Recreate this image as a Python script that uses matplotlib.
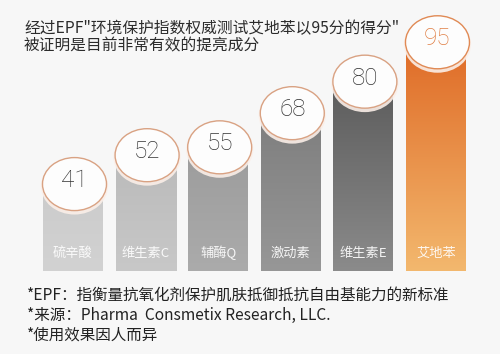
import matplotlib
matplotlib.use("Agg")
import matplotlib.pyplot as plt
import numpy as np
from matplotlib.patches import Ellipse
from matplotlib.colors import LinearSegmentedColormap

categories = ["硫辛酸", "维生素C", "辅酶Q", "激动素", "维生素E", "艾地苯"]
scores = [41, 52, 55, 68, 80, 95]
top_colors = ["#cbcbcb", "#bababa", "#9c9c9c", "#7e7e7e", "#5c5c5c", "#df6a26"]
bottom_colors = ["#d2d2d2", "#c8c8c8", "#ababab", "#979797", "#8b8b8b", "#f3b86e"]
title_lines = ['经过EPF"环境保护指数权威测试艾地苯以95分的得分"', '被证明是目前非常有效的提亮成分']
notes = ["*EPF：指衡量抗氧化剂保护肌肤抵御抵抗自由基能力的新标准",
         "*来源：Pharma  Consmetix Research, LLC.",
         "*使用效果因人而异"]

plt.rcParams['font.family'] = ['Noto Sans CJK SC', 'DejaVu Sans']

W, H = 500, 354
fig = plt.figure(figsize=(5, 3.54), dpi=100)
fig.patch.set_facecolor("#f7f7f7")

ax = fig.add_axes([0, 83 / H, 1, 271 / H])
ax.set_facecolor("none")
ax.axis("off")
xlo, xhi = -1.0055, 5.882
ylo, yhi = 7.9, 111.1
px_per_x = W / (xhi - xlo)
px_per_y = 271 / (yhi - ylo)

x = np.arange(len(categories))
bw = 60 / px_per_x
heights = [v - ylo for v in scores]
bars = ax.bar(x, heights, width=bw, bottom=ylo, color="none", zorder=2)

grad = np.linspace(0, 1, 256).reshape(-1, 1)
for i, (b, v) in enumerate(zip(bars, scores)):
    cmap = LinearSegmentedColormap.from_list("g%d" % i, [bottom_colors[i], top_colors[i]])
    x0 = b.get_x()
    im = ax.imshow(grad, extent=(x0, x0 + bw, ylo, v), origin="lower",
                   cmap=cmap, aspect="auto", zorder=2, interpolation="bilinear")
    im.set_clip_path(b)

ew = 64 / px_per_x
eh = 53 / px_per_y
for i, v in enumerate(scores):
    cx = x[i] + 1.5 / px_per_x
    glow = Ellipse((cx, v - 0.8), ew * 1.05, eh * 1.07, facecolor="#fbefe8",
                   edgecolor="none", alpha=0.9, zorder=3)
    ax.add_patch(glow)
    edge = "#e08a55" if i == len(scores) - 1 else "#d9a283"
    e = Ellipse((cx, v), ew, eh, facecolor="#fdfdfd", edgecolor=edge, lw=1.0, zorder=4)
    ax.add_patch(e)
    tc = "#e07f45" if i == len(scores) - 1 else "#333333"
    ax.text(cx, v + 1.3, str(v), ha="center", va="center", fontsize=17.5,
            family=["Roboto", "DejaVu Sans"], fontweight="light", color=tc, zorder=5)
    ax.text(x[i], 14.7, categories[i], ha="center", va="center", fontsize=9.5,
            color="white", alpha=0.9, zorder=5)

ax.set_xlim(xlo, xhi)
ax.set_ylim(ylo, yhi)

fig.text(24 / W, 1 - 29 / H, title_lines[0], fontsize=11.3, color="#2b2b2b", va="center", ha="left")
fig.text(24 / W, 1 - 46 / H, title_lines[1], fontsize=11.3, color="#2b2b2b", va="center", ha="left")

for j, (t, yy) in enumerate(zip(notes, [295, 315, 335])):
    fig.text(27 / W, 1 - yy / H, t, fontsize=11.2, color="#222222", va="center", ha="left")

fig.savefig("out.png", dpi=100, facecolor=fig.get_facecolor())
